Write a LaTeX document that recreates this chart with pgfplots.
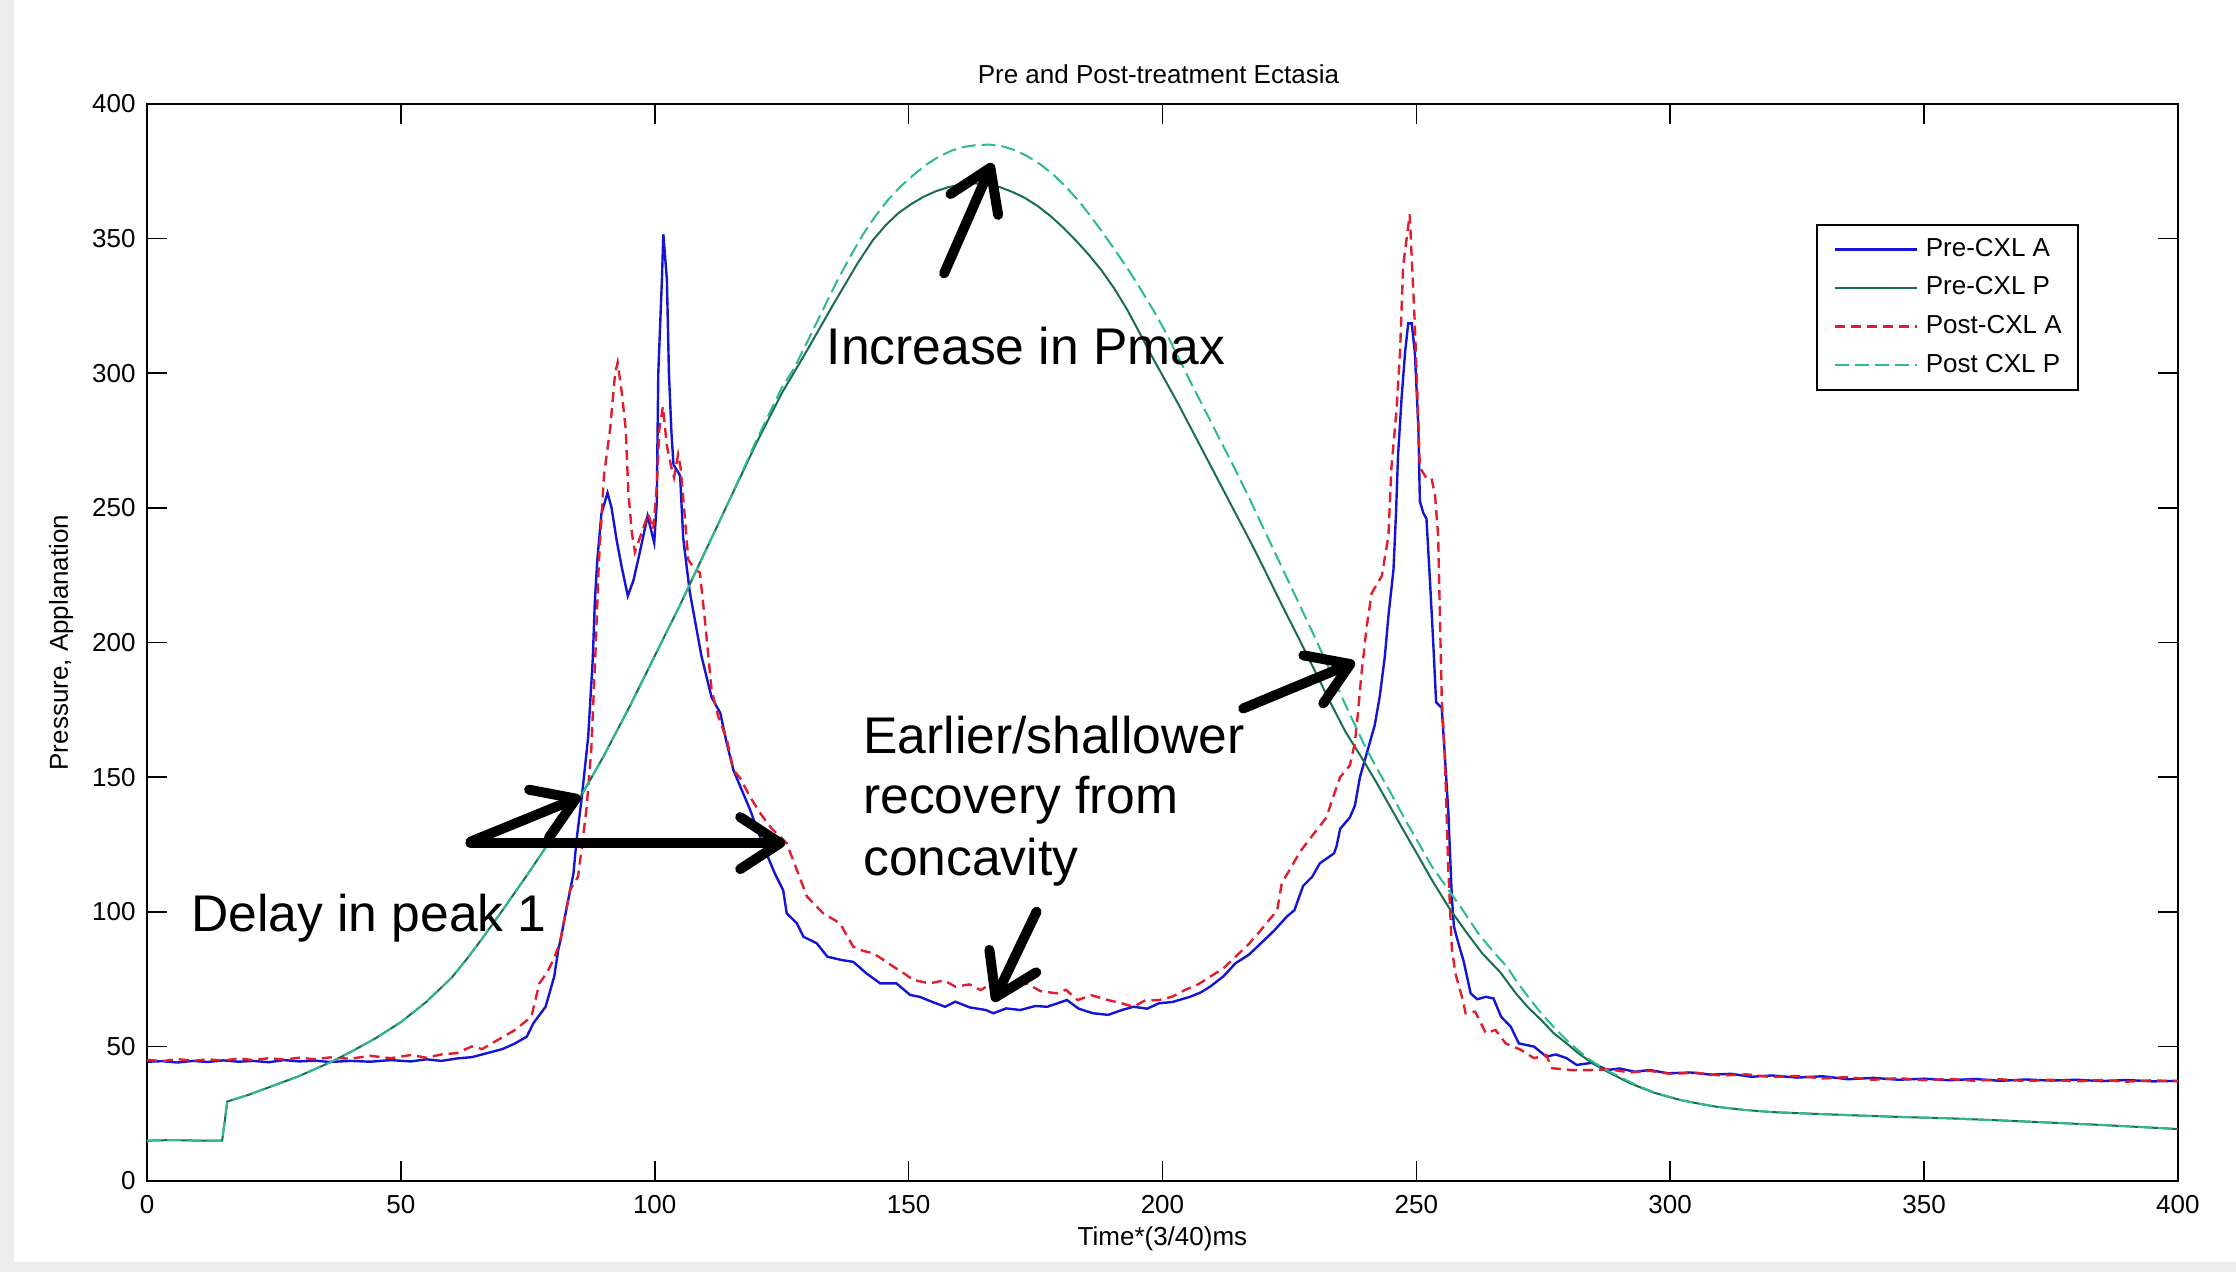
\documentclass[border=0pt]{standalone}
\usepackage{fontspec}
\setmainfont{Liberation Sans}
\usepackage{pgfplots}
\pgfplotsset{compat=1.18}
\usepackage{pgfplotstable}
\usetikzlibrary{arrows.meta}

\definecolor{preA}{RGB}{20,20,215}
\definecolor{postA}{RGB}{225,30,45}
\definecolor{preP}{RGB}{25,110,75}
\definecolor{postP}{RGB}{45,185,150}

\newcommand{\ticfont}{\fontsize{13}{15}\selectfont}
\newcommand{\annofont}{\fontsize{25.8}{31}\selectfont}

% Pre-CXL applanation signal
\pgfplotstableread{
x y
0 44.3
3 44.5
6 44.0
9 44.6
12 44.2
15 44.8
18 44.3
21 44.6
24 44.1
27 44.9
30 44.4
33 44.7
36 44.2
40 44.6
44 44.3
48 44.9
52 44.4
55 45.2
58 44.6
61 45.5
64 46.0
67 47.5
70 49.0
72.4 51.0
74.8 53.6
76.1 58.6
78.5 64.7
80.2 75.9
81.0 85.8
81.5 90.0
82.7 101.9
84.0 114.3
84.6 126.6
85.6 142.0
86.9 165.0
87.8 194.0
88.2 215.0
88.7 230.8
89.5 247.8
90.7 255.6
91.5 250.0
92.5 238.0
93.5 228.0
94.7 217.3
95.8 223.0
97.0 233.0
98.6 247.0
99.9 237.0
100.4 252.0
100.7 300.0
101.4 334.0
101.7 351.6
102.4 334.6
102.8 300.0
103.3 277.7
103.7 266.0
105.0 262.0
105.6 239.0
106.3 228.0
106.9 218.8
109.2 195.0
111.2 179.6
112.9 173.9
114.2 162.5
115.5 152.6
117.1 145.4
118.8 137.8
120.5 129.0
122.0 121.7
123.7 114.0
125.3 108.0
126.0 99.4
128.0 95.7
129.3 90.7
131.9 88.3
134.0 83.3
137.0 82.0
139.1 81.4
141.7 77.1
144.4 73.4
147.6 73.4
150.3 69.1
152.2 68.4
154.0 67.0
157.2 64.7
159.2 66.6
162.0 64.5
165.2 63.5
166.7 62.3
169.2 64.1
172.0 63.5
175.0 65.0
177.3 64.7
181.2 67.2
183.5 64.0
186.3 62.3
189.3 61.7
192.0 63.5
194.3 64.7
197.0 64.0
199.3 66.0
202.0 66.5
205.4 68.4
207.5 70.0
209.4 72.2
212.0 76.0
214.4 80.9
217.0 84.0
219.4 88.3
222.0 93.0
224.5 98.2
226.0 100.6
227.7 109.6
229.5 113.0
231.0 118.0
233.8 121.7
234.3 124.4
235.0 130.8
236.9 135.0
237.9 139.4
238.9 150.0
240.2 158.6
241.8 169.2
242.8 180.0
243.8 194.8
244.5 209.7
245.5 227.0
246.0 248.0
246.4 269.5
247.1 290.8
247.8 308.0
248.4 318.5
249.1 318.5
249.7 308.0
250.4 280.0
250.7 252.4
251.4 248.0
252.0 246.0
252.7 222.5
253.3 201.2
253.9 177.8
255.0 175.7
255.6 158.6
256.3 137.2
257.0 105.3
257.4 94.6
258.3 88.2
259.3 81.8
260.7 69.7
262.0 67.5
263.7 68.4
265.2 67.8
266.7 61.0
268.6 57.3
270.2 51.1
273.2 49.9
275.6 46.2
277.5 47.0
279.6 45.6
281.6 43.1
284.6 43.9
287.6 41.2
290 41.8
293 40.6
296 41.2
299.6 40.0
304 40.3
308 39.5
312 39.8
316 38.7
320 39.2
325 38.4
330 38.9
335 37.8
340 38.3
345 37.6
350 38.0
355 37.4
360 37.9
365 37.2
370 37.7
375 37.3
380 37.6
385 37.1
390 37.5
395 37.0
400 37.2
}\preA

% Post-CXL applanation signal
\pgfplotstableread{
x y
0 45.0
3 44.5
6 45.3
9 44.6
12 45.2
15 44.7
18 45.5
21 44.9
24 45.6
27 45.1
30 45.8
33 45.2
36 45.9
40 45.4
44 46.5
48 45.6
52 46.8
55 45.8
58 47.0
61 47.5
64 50.0
66 49.0
69.1 52.4
72.4 56.0
75.7 61.0
77.3 73.5
78.7 77.1
80.0 82.0
81.3 88.3
83.3 108.0
84.9 113.0
85.9 127.9
86.6 139.0
87.5 160.0
88.3 195.0
89.0 230.0
90.0 262.0
91.2 279.0
92.2 300.0
92.7 304.0
93.5 293.0
94.3 279.0
94.8 256.0
95.5 240.7
96.1 233.6
97.1 239.0
98.7 247.8
99.7 242.0
100.4 257.7
100.9 279.0
101.6 287.6
102.4 273.0
103.3 264.8
103.8 261.3
104.6 269.8
105.1 264.8
106.0 245.0
106.6 230.8
107.6 228.0
108.9 225.8
109.9 208.0
111.2 182.4
112.5 172.5
114.2 164.0
115.5 152.6
116.8 149.7
118.8 142.6
121.0 136.0
123.0 131.0
126.0 125.4
128.0 115.5
130.0 105.6
133.2 99.4
136.5 95.7
139.1 87.0
141.0 85.5
143.0 84.6
144.1 83.3
147.0 79.6
149.1 77.1
150.9 74.7
154.1 73.4
157.0 74.5
159.2 72.2
162.0 73.0
164.2 70.9
166.0 73.0
169.2 69.7
171.0 72.0
173.2 73.4
176.0 70.5
179.2 69.7
181.0 71.0
183.3 67.2
186.0 69.0
189.3 67.2
192.0 66.0
194.3 64.7
196.5 67.0
199.3 67.2
202.0 68.5
204.4 70.9
207.0 73.0
209.4 75.9
212.0 79.0
214.4 83.3
217.0 88.0
219.4 93.2
222.6 100.6
223.5 110.6
225.5 117.0
227.1 122.3
229.7 128.7
232.3 135.0
233.5 142.0
235.0 150.0
236.9 154.3
237.9 162.8
238.5 173.7
239.2 188.4
240.2 205.5
241.2 218.3
243.2 224.7
244.5 239.5
245.1 265.0
246.1 286.5
246.8 308.0
247.4 339.8
248.7 359.0
249.7 318.5
250.4 282.3
250.7 265.0
252.0 261.0
253.0 261.0
253.7 254.5
254.3 239.5
255.0 180.0
255.6 158.6
256.3 116.0
257.0 86.2
257.7 77.1
259.2 66.9
259.7 62.3
261.6 62.9
263.7 54.9
265.6 56.1
267.6 51.1
270.6 48.7
273.2 45.6
275.6 46.8
276.7 41.9
280.6 41.2
284.6 41.2
288 41.5
292 40.3
296 40.9
300 39.8
305 40.2
310 39.2
315 39.6
320 38.6
325 39.0
330 38.1
335 38.6
340 37.6
345 38.2
350 37.4
355 37.9
360 37.2
365 37.8
370 37.1
375 37.6
380 37.0
385 37.5
390 36.9
395 37.4
400 37.0
}\postA

% Pre-CXL pressure
\pgfplotstableread{
x y
0 15.0
5 15.2
10 15.0
14.8 15.0
15.3 22.0
15.8 29.5
20 32.0
25 35.5
30 39.0
36 44.0
40 47.8
45 53.0
50 59.0
55 66.5
60 75.5
62.8 82.0
66 90.0
70 100.5
75 114.0
80 128.0
85.4 142.7
90 158.0
95 176.0
100 195.0
105 214.0
110 234.0
115 254.0
120 274.0
125 292.5
130 308.5
135 325.0
140 341.0
143 349.5
145.5 355.0
148 359.5
150.5 362.8
153 365.6
155.5 367.7
158 369.2
160.5 370.1
163 370.5
165.5 370.2
168 369.1
170.5 367.3
173 365.0
175.5 362.0
178 358.3
180.5 354.0
183 349.2
185.5 344.0
188 338.2
190.5 331.5
193 323.8
195.5 315.0
198 306.0
200.5 297.5
203 289.0
205.5 280.0
208 271.0
210.5 262.0
213 253.0
215.5 244.0
218 235.0
220.5 225.5
223.5 214.0
227 201.0
230 189.5
233 178.0
236 167.0
239.5 156.4
242 148.5
245 138.5
248 128.5
250 122.0
253 112.0
256.6 101.0
260 92.0
263 84.5
266.5 77.6
269.6 69.7
272 64.5
274.6 59.8
277 55.0
279.6 51.1
282 47.3
284.6 43.9
287 41.2
289.6 38.7
292 36.4
294.6 34.4
297 32.7
299.6 31.3
302 30.1
304.6 29.1
309 27.6
314.6 26.4
320 25.6
325 25.2
334.6 24.5
345 23.8
354.6 23.3
365 22.5
374.6 21.7
385 20.8
395 19.8
400 19.3
}\preP

% Post-CXL pressure
\pgfplotstableread{
x y
0 15.0
5 15.2
10 15.0
14.8 15.0
15.3 22.0
15.8 29.5
20 32.0
25 35.5
30 39.0
36 44.0
40 47.8
45 53.0
50 59.0
55 66.5
60 75.5
62.8 82.0
66 90.0
70 100.5
75 114.0
80 128.0
85.4 142.7
90 158.0
95 176.0
100 195.0
105 214.0
110 234.0
115 254.0
120 275.0
125 294.5
127.5 302.0
130 311.5
133.1 323.5
136 334.5
138.7 344.0
141 351.5
143.5 358.5
146 364.5
148.5 369.5
151 373.7
153.5 377.5
156 380.5
158.5 382.7
161 384.1
163.5 384.8
166 384.9
168.5 384.3
171 382.8
173.5 380.5
176 377.5
178.5 373.8
181 369.2
183.5 364.0
186 358.0
188.5 351.5
191 344.8
193.5 337.8
196 330.3
198.5 322.5
201 314.0
203.5 304.5
206 295.0
208.5 285.8
211 276.5
214 265.5
217 254.0
220 242.0
223.5 228.0
227 214.0
230 202.0
233 189.5
236 177.0
239.5 163.0
242 154.0
245 144.0
248 133.5
250 127.0
253 117.0
256.6 107.4
259 101.0
262 92.5
265 85.5
267.8 79.7
270 73.5
272 68.5
274.5 62.5
277 57.3
279.5 52.5
282 48.3
284 45.3
286 42.8
288 40.6
290 38.8
292 36.8
294.6 34.6
297 32.8
299.6 31.4
302 30.1
304.6 29.1
309 27.6
314.6 26.4
320 25.6
325 25.2
334.6 24.5
345 23.8
354.6 23.3
365 22.5
374.6 21.7
385 20.8
395 19.8
400 19.3
}\postP

\tikzset{anno/.style={black, line width=5pt, line cap=round,
  -{Straight Barb[length=20pt,width=26pt,round]}}}

\begin{document}
\begin{tikzpicture}
\useasboundingbox (-73.5pt,-45.5pt) rectangle (1044.5pt,590.5pt);
\fill[white] (-73.5pt,-45.5pt) rectangle (1044.5pt,590.5pt);
\fill[black!7] (-73.5pt,-45.5pt) rectangle (-66.5pt,590.5pt);
\fill[black!7] (-73.5pt,-45.5pt) rectangle (1044.5pt,-40.5pt);
\begin{axis}[
  at={(0pt,0pt)}, anchor=south west,
  scale only axis, width=1015.5pt, height=538.5pt,
  xmin=0, xmax=400, ymin=0, ymax=400,
  xtick={0,50,...,400}, ytick={0,50,...,400},
  tick align=inside, major tick length=10pt,
  every tick/.style={black, line width=0.8pt},
  axis line style={line width=1.2pt},
  tick label style={font=\ticfont},
  /pgf/number format/assume math mode=true,
  xticklabel style={inner sep=0pt, anchor=north, yshift=-7pt},
  yticklabel style={inner sep=0pt, anchor=east, xshift=-5.5pt},
  title={Pre and Post-treatment Ectasia},
  xlabel={Time*(3/40)ms},
  ylabel={Pressure, Applanation},
  every axis title/.style={at={(axis description cs:0.498,1)}, anchor=center, yshift=15pt, font=\ticfont},
  every axis x label/.style={at={(axis description cs:0.5,0)}, anchor=center, yshift=-29pt, font=\ticfont},
  every axis y label/.style={at={(axis description cs:-0.0423,0.5)}, anchor=center, rotate=90, font=\ticfont},
  legend style={at={(0.822,0.889)}, anchor=north west, draw=black, line width=1pt,
    fill=white, font=\ticfont, inner xsep=8pt, inner ysep=6.4pt,
    row sep=7.3pt, column sep=4pt,
    nodes={inner sep=0pt, text height=9.5pt, text depth=2.5pt}},
  legend cell align=left,
  legend image code/.code={\draw[#1] (0pt,0pt) -- (41pt,0pt);},
]
\addplot[preA, line width=1.2pt] table {\preA};
\addlegendentry{Pre-CXL A}
\addplot[preP, line width=1pt] table {\preP};
\addlegendentry{Pre-CXL P}
\addplot[postA, line width=1.2pt, dash pattern=on 5pt off 3pt] table {\postA};
\addlegendentry{Post-CXL A}
\addplot[postP, line width=1pt, dash pattern=on 7pt off 3pt] table {\postP};
\addlegendentry{Post CXL P}

\node[anchor=base west, font=\annofont, inner sep=0pt] at (axis cs:133.8,303.1) {Increase in Pmax};
\node[anchor=base west, font=\annofont, inner sep=0pt] at (axis cs:8.6,92.6) {Delay in peak 1};
\node[anchor=base west, font=\annofont, inner sep=0pt] at (axis cs:141,158.9) {Earlier/shallower};
\node[anchor=base west, font=\annofont, inner sep=0pt] at (axis cs:141,136.6) {recovery from};
\node[anchor=base west, font=\annofont, inner sep=0pt] at (axis cs:141,113.6) {concavity};

\draw[anno] (axis cs:157,337.1) -- (axis cs:166.5,378);
\draw[anno] (axis cs:63.7,126) -- (axis cs:85.4,142.7);
\draw[anno] (axis cs:63.7,125.5) -- (axis cs:125.7,125.5);
\draw[anno] (axis cs:215.9,175.5) -- (axis cs:237.9,192.7);
\draw[anno] (axis cs:175.2,100) -- (axis cs:166.7,66.6);
\end{axis}
\end{tikzpicture}
\end{document}
